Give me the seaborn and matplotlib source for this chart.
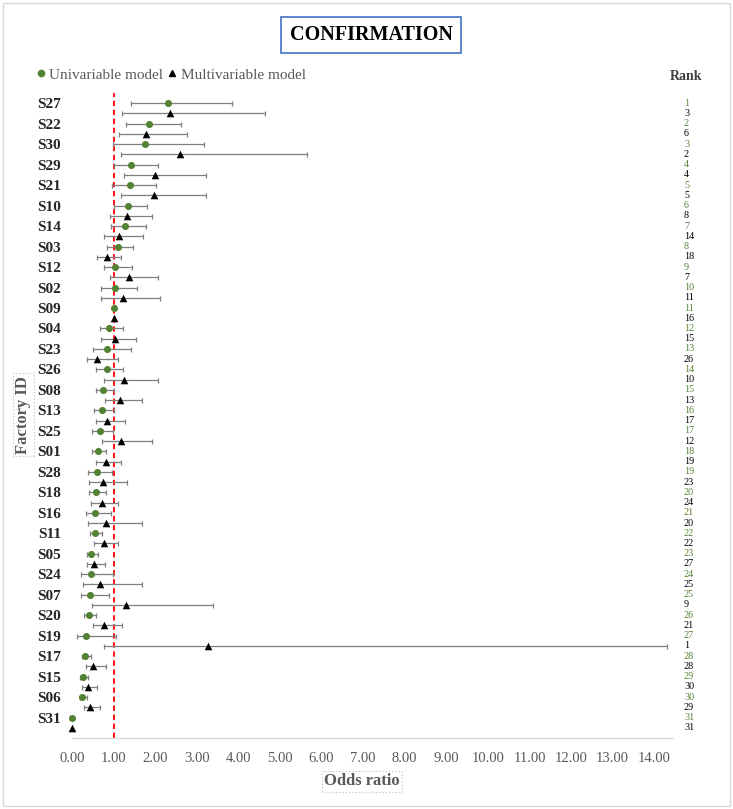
"""
Forest plot - CONFIRMATION
Univariable vs multivariable odds ratios per factory, with ranks.
"""

import numpy as np
import pandas as pd
import matplotlib
matplotlib.use("Agg")
import matplotlib.pyplot as plt
import matplotlib.transforms as mtransforms
from matplotlib.lines import Line2D
from matplotlib.patches import Rectangle
import seaborn as sns

# ── Data ──────────────────────────────────────────────────────────────────────
factories = ["S27", "S22", "S30", "S29", "S21", "S10", "S14", "S03", "S12", "S02",
             "S09", "S04", "S23", "S26", "S08", "S13", "S25", "S01", "S28", "S18",
             "S16", "S11", "S05", "S24", "S07", "S20", "S19", "S17", "S15", "S06",
             "S31"]

uni_or = [2.32, 1.85, 1.76, 1.43, 1.39, 1.35, 1.28, 1.11, 1.04, 1.03,
          1.00, 0.88, 0.84, 0.83, 0.74, 0.73, 0.67, 0.63, 0.60, 0.58,
          0.55, 0.55, 0.46, 0.46, 0.43, 0.41, 0.34, 0.32, 0.26, 0.25,
          0.00]
uni_lo = [1.41, 1.31, 0.99, 1.01, 0.95, 1.02, 0.94, 0.85, 0.77, 0.69,
          np.nan, 0.67, 0.51, 0.58, 0.57, 0.52, 0.47, 0.49, 0.39, 0.42,
          0.33, 0.43, 0.35, 0.22, 0.22, 0.30, 0.12, 0.24, 0.19, 0.19,
          np.nan]
uni_hi = [3.84, 2.63, 3.18, 2.07, 2.03, 1.80, 1.78, 1.46, 1.45, 1.57,
          np.nan, 1.22, 1.43, 1.23, 1.00, 1.02, 0.99, 0.82, 0.96, 0.82,
          0.94, 0.73, 0.63, 0.98, 0.90, 0.58, 1.06, 0.46, 0.39, 0.37,
          np.nan]

multi_or = [2.36, 1.77, 2.60, 2.00, 1.96, 1.32, 1.14, 0.84, 1.37, 1.22,
            1.00, 1.04, 0.61, 1.26, 1.15, 0.85, 1.19, 0.82, 0.75, 0.71,
            0.82, 0.77, 0.53, 0.68, 1.29, 0.78, 3.27, 0.51, 0.38, 0.44,
            0.00]
multi_lo = [1.21, 1.14, 1.19, 1.24, 1.19, 0.92, 0.76, 0.60, 0.92, 0.70,
            np.nan, 0.70, 0.35, 0.77, 0.79, 0.57, 0.72, 0.57, 0.42, 0.46,
            0.39, 0.54, 0.37, 0.26, 0.49, 0.50, 0.76, 0.33, 0.25, 0.30,
            np.nan]
multi_hi = [4.65, 2.77, 5.66, 3.23, 3.23, 1.93, 1.71, 1.19, 2.07, 2.11,
            np.nan, 1.53, 1.10, 2.07, 1.69, 1.28, 1.92, 1.18, 1.33, 1.11,
            1.68, 1.11, 0.79, 1.68, 3.40, 1.21, 14.30, 0.82, 0.60, 0.67,
            np.nan]

uni_rank = list(range(1, 32))
multi_rank = [3, 6, 2, 4, 5, 8, 14, 18, 7, 11,
              16, 15, 26, 10, 13, 17, 12, 19, 23, 24,
              20, 22, 27, 25, 9, 21, 1, 28, 30, 29,
              31]

x_ticks = list(range(0, 15))
x_tick_labels = [f"{t:.2f}" for t in x_ticks]

# ── Colours ───────────────────────────────────────────────────────────────────
GREEN = "#548235"
GREY_TXT = "#595959"
GREY_BAR = "#7F7F7F"

# ── Long table ────────────────────────────────────────────────────────────────
n = len(factories)
df = pd.concat([
    pd.DataFrame({"factory": factories, "model": "Univariable",
                  "or": uni_or, "lo": uni_lo, "hi": uni_hi, "rank": uni_rank,
                  "pos": np.arange(n) * 2}),
    pd.DataFrame({"factory": factories, "model": "Multivariable",
                  "or": multi_or, "lo": multi_lo, "hi": multi_hi, "rank": multi_rank,
                  "pos": np.arange(n) * 2 + 1}),
], ignore_index=True)

# ── Figure ────────────────────────────────────────────────────────────────────
sns.set_theme(style="white")
plt.rcParams["font.family"] = ["Liberation Serif", "DejaVu Serif"]

W, H = 733, 809
fig = plt.figure(figsize=(W / 100, H / 100), dpi=100)
ax = fig.add_axes([72 / W, 1 - 738 / H, (673 - 72) / W, (738 - 93) / H])

# error bars
ci = df.dropna(subset=["lo", "hi"])
ax.errorbar(ci["or"], ci["pos"], xerr=[ci["or"] - ci["lo"], ci["hi"] - ci["or"]],
            fmt="none", ecolor=GREY_BAR, elinewidth=0.9, capsize=1.8,
            capthick=0.9, zorder=2)

# points
sns.scatterplot(data=df[df["model"] == "Univariable"], x="or", y="pos",
                color=GREEN, marker="o", s=26, linewidth=0, ax=ax,
                legend=False, clip_on=False, zorder=3)
sns.scatterplot(data=df[df["model"] == "Multivariable"], x="or", y="pos",
                color="black", marker="^", s=30, linewidth=0, ax=ax,
                legend=False, clip_on=False, zorder=3)

ax.axvline(1, color="#FF0000", ls=(0, (3, 2)), lw=1.3, zorder=1)

ax.set_xlim(0, 14.45)
ax.set_ylim(2 * n, -1)
ax.set_xticks(x_ticks)
ax.set_xticklabels(x_tick_labels, fontsize=10.5, color=GREY_TXT)
ax.set_yticks(np.arange(n) * 2)
ax.set_yticklabels(factories, fontsize=11, fontweight="bold", color="#262626")
ax.tick_params(axis="x", length=0, pad=10)
ax.tick_params(axis="y", length=0, pad=8)
ax.set_xlabel("")
ax.set_ylabel("")
for side in ["top", "right", "left"]:
    ax.spines[side].set_visible(False)
ax.spines["bottom"].set_color("#D9D9D9")
ax.spines["bottom"].set_linewidth(1)

# ranks
trans = mtransforms.blended_transform_factory(fig.transFigure, ax.transData)
for _, r in df.iterrows():
    ax.text(684 / W, r["pos"], str(r["rank"]), transform=trans,
            ha="left", va="center", fontsize=7.3,
            color=GREEN if r["model"] == "Univariable" else "black")
fig.text(686 / W, 1 - 76 / H, "Rank", ha="center", va="center",
         fontsize=10, fontweight="bold", color="#404040")

# title
fig.text(371 / W, 1 - 35 / H, "CONFIRMATION", ha="center", va="center",
         fontsize=14.5, fontweight="bold", color="black",
         bbox=dict(boxstyle="square,pad=0.4", fc="white", ec="#4472C4", lw=1.2))

# legend
handles = [Line2D([], [], marker="o", color=GREEN, ls="none", markersize=4.5),
           Line2D([], [], marker="^", color="black", ls="none", markersize=4.5)]
fig.legend(handles, ["Univariable model", "Multivariable model"],
           loc="center left", bbox_to_anchor=(36 / W, 1 - 75 / H), ncol=2,
           frameon=False, fontsize=11, labelcolor=GREY_TXT,
           handlelength=0.6, handletextpad=0.25, columnspacing=0.3,
           borderpad=0, borderaxespad=0)

# axis titles
label_box = dict(boxstyle="square,pad=0.15", fc="none", ec="#BFBFBF",
                 ls=(0, (1, 2)), lw=0.8)
fig.text(362 / W, 1 - 781 / H, "Odds ratio", ha="center", va="center",
         fontsize=12, fontweight="bold", color=GREY_TXT, bbox=label_box)
fig.text(23 / W, 1 - 415 / H, "Factory ID", ha="center", va="center",
         rotation=90, fontsize=12, fontweight="bold", color=GREY_TXT,
         bbox=label_box)

# outer border
fig.add_artist(Rectangle((3 / W, 3 / H), 1 - 6 / W, 1 - 6 / H,
                         transform=fig.transFigure, fill=False,
                         ec="#D9D9D9", lw=1))

fig.savefig("out.png", dpi=100)
plt.close(fig)
